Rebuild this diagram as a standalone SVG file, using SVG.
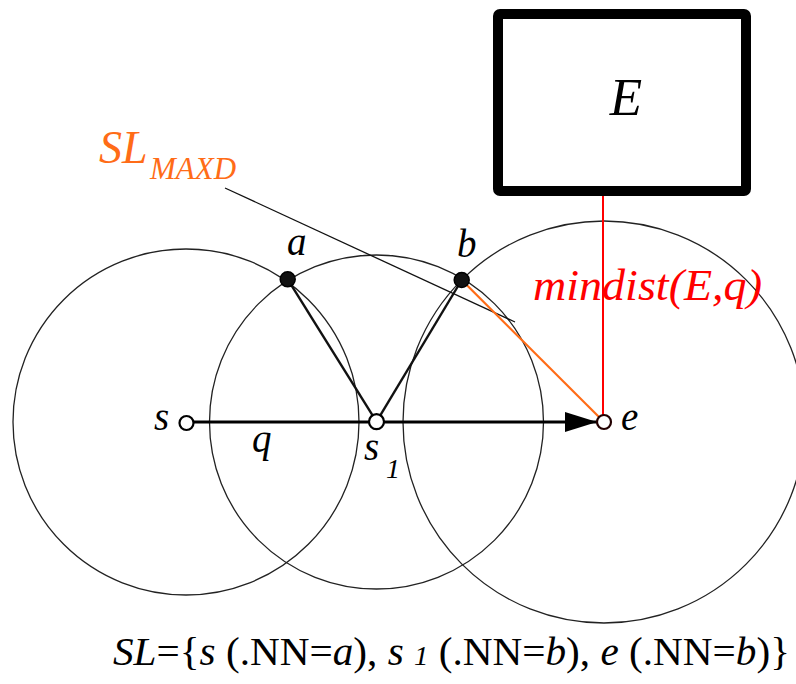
<svg xmlns="http://www.w3.org/2000/svg" width="796" height="684" viewBox="0 0 796 684">
<defs>
<style>
.t{font-family:"Liberation Serif","Times New Roman",serif;}
.i{font-style:italic;}
.circ{fill:none;stroke:#222;stroke-width:1.3;}
.open{fill:#fff;stroke:#000;stroke-width:2.2;}
.full{fill:#111;stroke:#000;stroke-width:1.5;}
.edge{stroke:#111;stroke-width:2.4;fill:none;}
</style>
<marker id="arr" viewBox="0 0 32 20" refX="32" refY="10" markerWidth="32" markerHeight="20" markerUnits="userSpaceOnUse" orient="auto">
<path d="M0,0 L32,10 L0,20 Z" fill="#000"/>
</marker>
</defs>
<rect width="796" height="684" fill="#fff"/>
<g id="circles">
<circle class="circ" cx="186" cy="422" r="173"/>
<circle class="circ" cx="376.5" cy="422" r="167"/>
<circle class="circ" cx="604" cy="422" r="201"/>
</g>
<g id="connectors">
<line x1="225" y1="188" x2="515" y2="322" stroke="#111" stroke-width="1.3"/>
<line x1="603" y1="196" x2="603" y2="422" stroke="#ff0000" stroke-width="2"/>
<line x1="461.7" y1="280" x2="604" y2="422" stroke="#ff6c17" stroke-width="2.2"/>
<line x1="194" y1="422" x2="597" y2="422" stroke="#000" stroke-width="3" marker-end="url(#arr)"/>
<line class="edge" x1="287.7" y1="279.3" x2="376.5" y2="421.7"/>
<line class="edge" x1="376.5" y1="421.7" x2="461.7" y2="280"/>
</g>
<g id="E">
<rect x="498" y="14" width="248" height="177" rx="2" fill="#fff" stroke="#000" stroke-width="10"/>
<text class="t i" x="626" y="115" font-size="53" text-anchor="middle">E</text>
</g>
<g id="a">
<circle class="full" cx="287.7" cy="279.3" r="7.5"/>
<text class="t i" x="287" y="255" font-size="39">a</text>
</g>
<g id="b">
<circle class="full" cx="461.7" cy="280" r="7.5"/>
<text class="t i" x="457" y="257" font-size="39">b</text>
</g>
<g id="s">
<circle class="open" cx="186.5" cy="423" r="7"/>
<text class="t i" x="154" y="430" font-size="39">s</text>
</g>
<g id="s1">
<circle class="open" cx="376.5" cy="421.7" r="7.5"/>
<text class="t i" x="364" y="460" font-size="39">s</text>
<text class="t i" x="386" y="478" font-size="28">1</text>
</g>
<g id="e">
<circle cx="604" cy="422" r="7" fill="#fff" stroke="#200" stroke-width="2.2"/>
<text class="t i" x="621" y="430" font-size="39">e</text>
</g>
<g id="q">
<text class="t i" x="252" y="452" font-size="39">q</text>
</g>
<g id="slmaxd">
<text class="t i" x="99" y="163" font-size="46" fill="#ff6c17">SL</text>
<text class="t i" x="150" y="179" font-size="31" fill="#ff6c17">MAXD</text>
</g>
<g id="mindist">
<text class="t i" x="533" y="300" font-size="44" fill="#ff0000" textLength="229" lengthAdjust="spacingAndGlyphs">mindist(E,q)</text>
</g>
<g id="caption">
<text class="t" x="113" y="665" font-size="40" textLength="677" lengthAdjust="spacingAndGlyphs"><tspan class="i">SL</tspan>={<tspan class="i">s</tspan> (.NN=<tspan class="i">a</tspan>), <tspan class="i">s</tspan> <tspan class="i" font-size="28">1</tspan> (.NN=<tspan class="i">b</tspan>), <tspan class="i">e</tspan> (.NN=<tspan class="i">b</tspan>)}</text>
</g>
</svg>
